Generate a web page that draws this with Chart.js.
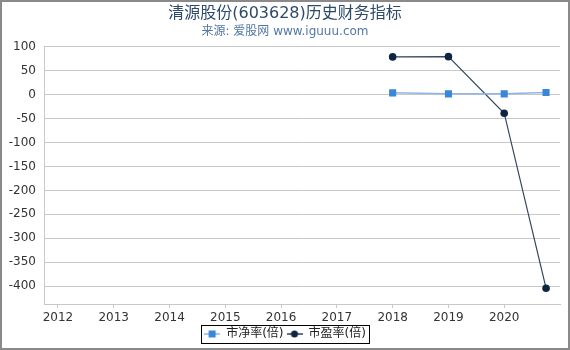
<!DOCTYPE html>
<html>
<head>
<meta charset="utf-8">
<script src="https://cdn.jsdelivr.net/npm/chart.js@4.4.1/dist/chart.umd.min.js"></script>
<style>
  html, body { margin: 0; padding: 0; background: #fff; }
  #wrap { width: 570px; height: 350px; position: relative; }
</style>
</head>
<body>
<div id="wrap"><canvas id="chart" width="570" height="350"></canvas></div>
<script>
// dados
const years = [2018, 2019, 2020, 2020.75];
const pb = [3.5, 1.4, 1.4, 4.2];      // 市净率(倍)
const pe = [78.5, 79, -39, -404];     // 市盈率(倍)
const xTicks = [2012, 2013, 2014, 2015, 2016, 2017, 2018, 2019, 2020];
const yTicks = [-400, -350, -300, -250, -200, -150, -100, -50, 0, 50, 100];

const FONT = "'DejaVu Sans', 'Noto Sans CJK SC', sans-serif";

// icone da legenda: linha com marcador
function legendIcon(color, lineColor, shape) {
  const c = document.createElement('canvas');
  c.width = 16; c.height = 10;
  const g = c.getContext('2d');
  g.strokeStyle = lineColor; g.lineWidth = 1.5;
  g.beginPath(); g.moveTo(0, 5); g.lineTo(16, 5); g.stroke();
  g.fillStyle = color;
  if (shape === 'rect') {
    g.fillRect(4.5, 1.5, 7, 7);
  } else {
    g.beginPath(); g.arc(8, 5, 3.5, 0, Math.PI * 2); g.fill();
  }
  return c;
}

const borderPlugin = {
  id: 'borders',
  afterDraw(chart) {
    const ctx = chart.ctx;
    ctx.save();
    // caixa da legenda
    const boxes = chart.legend.legendHitBoxes;
    if (boxes && boxes.length) {
      const l = Math.min(...boxes.map(b => b.left)) - 3;
      const r = Math.max(...boxes.map(b => b.left + b.width)) + 3;
      const t = boxes[0].top - 3;
      const h = boxes[0].height + 6;
      ctx.strokeStyle = '#000';
      ctx.lineWidth = 1;
      ctx.strokeRect(Math.round(l) + 0.5, Math.round(t) + 0.5, Math.round(r - l), Math.round(h));
    }
    // moldura externa
    ctx.strokeStyle = '#8a8a8a';
    ctx.lineWidth = 2;
    ctx.strokeRect(1, 1, chart.width - 2, chart.height - 2);
    ctx.restore();
  }
};

new Chart(document.getElementById('chart').getContext('2d'), {
  type: 'line',
  data: {
    datasets: [
      {
        label: '市净率(倍)',
        data: years.map((x, i) => ({ x: x, y: pb[i] })),
        borderColor: '#8fb6e6',
        backgroundColor: '#3a86d8',
        pointStyle: 'rect',
        pointRadius: 5,
        pointBorderWidth: 0,
        borderWidth: 1.5,
        fill: false
      },
      {
        label: '市盈率(倍)',
        data: years.map((x, i) => ({ x: x, y: pe[i] })),
        borderColor: '#33475e',
        backgroundColor: '#0f2440',
        pointStyle: 'circle',
        pointRadius: 3.8,
        pointBorderWidth: 0,
        borderWidth: 1.2,
        fill: false
      }
    ]
  },
  options: {
    responsive: false,
    animation: false,
    layout: { padding: { top: 4, right: 0, bottom: 0, left: 0 } },
    plugins: {
      title: {
        display: true,
        text: '清源股份(603628)历史财务指标',
        color: '#2e4a6a',
        font: { family: FONT, size: 16, weight: 'normal' },
        padding: { top: 0, bottom: 0 }
      },
      subtitle: {
        display: true,
        text: '来源: 爱股网 www.iguuu.com',
        color: '#5277a6',
        font: { family: FONT, size: 12 },
        padding: { top: 1, bottom: 8 }
      },
      legend: {
        position: 'bottom',
        labels: {
          usePointStyle: true,
          pointStyleWidth: 16,
          boxHeight: 10,
          padding: 3,
          color: '#222',
          font: { family: FONT, size: 12 },
          generateLabels(chart) {
            return [
              { text: '市净率(倍)', pointStyle: legendIcon('#3a86d8', '#8fb6e6', 'rect'), datasetIndex: 0, lineWidth: 0, strokeStyle: 'transparent', fillStyle: 'transparent', fontColor: '#222' },
              { text: '市盈率(倍)', pointStyle: legendIcon('#0f2440', '#33475e', 'circle'), datasetIndex: 1, lineWidth: 0, strokeStyle: 'transparent', fillStyle: 'transparent', fontColor: '#222' }
            ];
          }
        }
      },
      tooltip: { enabled: false }
    },
    scales: {
      x: {
        type: 'linear',
        min: 2011.75,
        max: 2021,
        afterBuildTicks(scale) { scale.ticks = xTicks.map(v => ({ value: v })); },
        afterFit(scale) { scale.height = 21; },
        ticks: {
          color: '#333',
          font: { family: FONT, size: 12 },
          padding: 3,
          callback: v => String(v)
        },
        grid: { drawOnChartArea: false, drawTicks: true, tickLength: 4, color: '#c8c8c8' },
        border: { color: '#c8c8c8' }
      },
      y: {
        min: -437,
        max: 100,
        afterBuildTicks(scale) { scale.ticks = yTicks.map(v => ({ value: v })); },
        afterFit(scale) { scale.width = 44; },
        ticks: {
          color: '#333',
          font: { family: FONT, size: 12 },
          padding: 8
        },
        grid: { color: '#c8c8c8', drawTicks: false },
        border: { color: '#c8c8c8' }
      },
      // eixo vazio so para reservar a margem direita
      yRight: {
        position: 'right',
        afterFit(scale) { scale.width = 10; },
        ticks: { display: false },
        grid: { display: false },
        border: { display: false }
      }
    }
  },
  plugins: [borderPlugin]
});
</script>
</body>
</html>
